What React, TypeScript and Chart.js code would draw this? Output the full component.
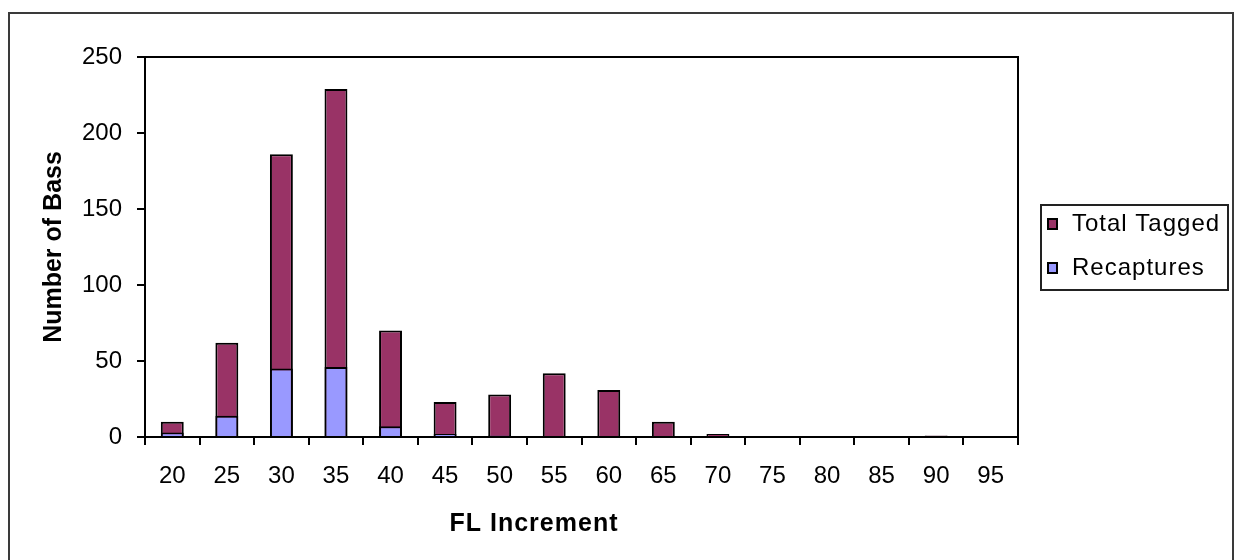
import React, { useEffect, useRef } from 'react';
import { Chart, registerables } from 'chart.js';

Chart.register(...registerables);

const categories = ['20', '25', '30', '35', '40', '45', '50', '55', '60', '65', '70', '75', '80', '85', '90', '95'];
const totalTagged = [10, 62, 186, 229, 70, 23, 28, 42, 31, 10, 2, 0, 0, 0, 1, 0];
const recaptures = [3, 14, 45, 46, 7, 2, 1, 0, 0, 0, 0, 0, 0, 0, 0, 0];
const seriesNames = ['Total Tagged', 'Recaptures'];
const seriesColors = ['#993366', '#9999FF'];
const yMin = 0;
const yMax = 250;
const yStep = 50;
const xTitle = 'FL Increment';
const yTitle = 'Number of Bass';

const FONT = "'Liberation Sans', Arial, sans-serif";

const decorPlugin = {
  id: 'decor',
  afterDraw(chart: any) {
    const ctx = chart.ctx as CanvasRenderingContext2D;
    const { left, right, top, bottom } = chart.chartArea;
    ctx.save();
    // plot area border (top and right)
    ctx.strokeStyle = '#000';
    ctx.lineWidth = 2;
    ctx.beginPath();
    ctx.moveTo(left, top);
    ctx.lineTo(right, top);
    ctx.lineTo(right, bottom);
    ctx.stroke();

    // outer chart frame
    ctx.strokeStyle = '#3a3a3a';
    ctx.lineWidth = 2;
    ctx.strokeRect(9, 13, 1224, 620);

    // x axis title
    ctx.fillStyle = '#000';
    ctx.font = `bold 25px ${FONT}`;
    ctx.textAlign = 'center';
    ctx.textBaseline = 'alphabetic';
    try { (ctx as any).letterSpacing = '1px'; } catch (e) {}
    ctx.fillText(xTitle, 534, 531);

    // legend box
    ctx.strokeStyle = '#222';
    ctx.lineWidth = 2;
    ctx.strokeRect(1041, 205, 187, 85);
    const rowsY = [224, 268];
    chart.data.datasets.forEach((ds: any, i: number) => {
      const y = rowsY[i];
      ctx.fillStyle = ds.backgroundColor;
      ctx.fillRect(1048, y - 5, 9, 10);
      ctx.strokeStyle = '#000';
      ctx.lineWidth = 2;
      ctx.strokeRect(1048, y - 5, 9, 10);
      ctx.fillStyle = '#000';
      ctx.font = `24px ${FONT}`;
      ctx.textAlign = 'left';
      ctx.textBaseline = 'middle';
      try { (ctx as any).letterSpacing = '1px'; } catch (e) {}
      ctx.fillText(ds.label, 1072, y);
    });
    try { (ctx as any).letterSpacing = '0px'; } catch (e) {}
    ctx.restore();
  },
};

export default function App() {
  const canvasRef = useRef<HTMLCanvasElement | null>(null);

  useEffect(() => {
    if (!canvasRef.current) return;
    const chart = new Chart(canvasRef.current, {
      type: 'bar',
      data: {
        labels: categories,
        datasets: [
          {
            label: seriesNames[0],
            data: totalTagged,
            backgroundColor: seriesColors[0],
            borderColor: '#000',
            borderWidth: 2,
            grouped: false,
            order: 2,
            barPercentage: 0.42,
            categoryPercentage: 1,
          } as any,
          {
            label: seriesNames[1],
            data: recaptures,
            backgroundColor: seriesColors[1],
            borderColor: '#000',
            borderWidth: 2,
            grouped: false,
            order: 1,
            barPercentage: 0.42,
            categoryPercentage: 1,
          } as any,
        ],
      },
      options: {
        responsive: false,
        animation: false,
        devicePixelRatio: 1,
        layout: { padding: { left: 0, top: 57, right: 217, bottom: 0 } },
        plugins: {
          legend: { display: false },
          tooltip: { enabled: false },
          title: { display: false },
        },
        scales: {
          x: {
            offset: true,
            border: { display: true, color: '#000', width: 2 },
            grid: {
              display: true,
              offset: true,
              drawOnChartArea: false,
              drawTicks: true,
              tickLength: 8,
              color: '#000',
              tickColor: '#000',
              lineWidth: 2,
            },
            ticks: {
              color: '#000',
              font: { family: FONT, size: 24 },
              padding: 17,
              maxRotation: 0,
              autoSkip: false,
            },
            afterFit: (scale: any) => {
              scale.height = 123;
            },
          },
          y: {
            min: yMin,
            max: yMax,
            border: { display: true, color: '#000', width: 2 },
            grid: {
              display: true,
              drawOnChartArea: false,
              drawTicks: true,
              tickLength: 8,
              color: '#000',
              tickColor: '#000',
              lineWidth: 2,
            },
            ticks: {
              stepSize: yStep,
              color: '#000',
              font: { family: FONT, size: 24 },
              padding: 15,
            },
            title: {
              display: true,
              text: yTitle,
              color: '#000',
              font: { family: FONT, size: 25, weight: 'bold' },
              padding: { top: 39, bottom: 0 },
            },
            afterFit: (scale: any) => {
              scale.width = 145;
            },
          },
        },
      },
      plugins: [decorPlugin],
    });
    return () => chart.destroy();
  }, []);

  return (
    <div style={{ position: 'fixed', left: 0, top: 0, width: 1235, height: 560, background: '#fff' }}>
      <canvas ref={canvasRef} width={1235} height={560} style={{ display: 'block' }} />
    </div>
  );
}
